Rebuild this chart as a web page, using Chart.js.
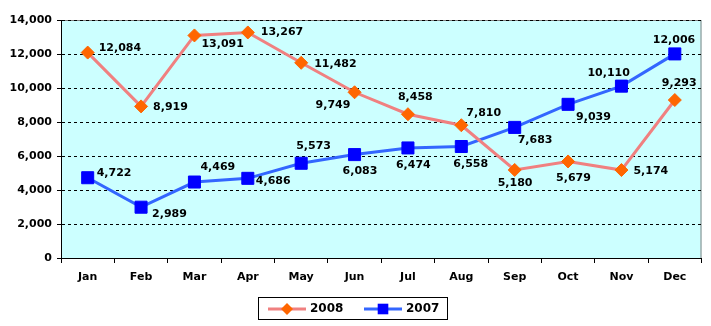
<!DOCTYPE html>
<html>
<head>
<meta charset="utf-8">
<title>2008 vs 2007</title>
<script src="https://cdn.jsdelivr.net/npm/chart.js@4/dist/chart.umd.min.js"></script>
<style>
    html, body { margin: 0; padding: 0; background: #ffffff; }
    #wrap { width: 711px; height: 326px; position: relative; }
</style>
</head>
<body>
<div id="wrap"><canvas id="monthChart"></canvas></div>
<script>
// ========================================
// DATA
// ========================================
const months = ['Jan', 'Feb', 'Mar', 'Apr', 'May', 'Jun', 'Jul', 'Aug', 'Sep', 'Oct', 'Nov', 'Dec'];
const values2008 = [12084, 8919, 13091, 13267, 11482, 9749, 8458, 7810, 5180, 5679, 5174, 9293];
const values2007 = [4722, 2989, 4469, 4686, 5573, 6083, 6474, 6558, 7683, 9039, 10110, 12006];
const yTicks = [0, 2000, 4000, 6000, 8000, 10000, 12000, 14000];

// label placement (left edge / middle of text, relative to the point)
const labelOffsets2008 = [[11, -4], [12, 1], [7, 9], [13, 0], [13, 1], [-39, 13], [-10, -17], [5, -12], [-17, 13], [-12, 17], [12, 1], [-13, -17]];
const labelOffsets2007 = [[9, -5], [11, 7], [6, -15], [8, 3], [-5, -17], [-12, 17], [-12, 17], [-8, 18], [3, 13], [8, 13], [-34, -13], [-22, -14]];

const FONT = 'bold 11px "DejaVu Sans", Verdana, sans-serif';

function fmt(n) {
    return n.toString().replace(/\B(?=(\d{3})+(?!\d))/g, ',');
}

// ========================================
// PLUGINS
// ========================================
const plotBackground = {
    id: 'plotBackground',
    beforeDraw(chart) {
        const a = chart.chartArea;
        const ctx = chart.ctx;
        ctx.save();
        ctx.fillStyle = '#ccffff';
        ctx.fillRect(a.left, a.top, a.right - a.left, a.bottom - a.top);
        ctx.strokeStyle = '#808080';
        ctx.lineWidth = 1;
        ctx.strokeRect(a.left + 0.5, a.top + 0.5, a.right - a.left - 1, a.bottom - a.top);
        ctx.restore();
    }
};

const pointLabels = {
    id: 'pointLabels',
    afterDatasetsDraw(chart) {
        const ctx = chart.ctx;
        const offsets = [labelOffsets2008, labelOffsets2007];
        ctx.save();
        ctx.font = FONT;
        ctx.fillStyle = '#000000';
        ctx.textAlign = 'left';
        ctx.textBaseline = 'middle';
        chart.data.datasets.forEach((ds, di) => {
            const meta = chart.getDatasetMeta(di);
            meta.data.forEach((pt, i) => {
                const off = offsets[di][i];
                ctx.fillText(fmt(ds.data[i]), pt.x + off[0], pt.y + off[1]);
            });
        });
        ctx.restore();
    }
};

const boxLegend = {
    id: 'boxLegend',
    afterDraw(chart) {
        const ctx = chart.ctx;
        const left = 258, top = 297, w = 189, h = 22;
        ctx.save();
        ctx.strokeStyle = '#000000';
        ctx.lineWidth = 1;
        ctx.strokeRect(left + 0.5, top + 0.5, w, h);
        const cy = top + h / 2 + 1;
        const items = [
            { x: left + 10, ds: chart.data.datasets[0], r: 6 },
            { x: left + 106, ds: chart.data.datasets[1], r: 7.5 }
        ];
        items.forEach(it => {
            const mx = it.x + 19;
            ctx.strokeStyle = it.ds.borderColor;
            ctx.lineWidth = 3;
            ctx.beginPath();
            ctx.moveTo(it.x, cy);
            ctx.lineTo(it.x + 38, cy);
            ctx.stroke();

            ctx.fillStyle = it.ds.pointBackgroundColor;
            ctx.beginPath();
            if (it.ds.pointStyle === 'rectRot') {
                ctx.moveTo(mx - it.r, cy);
                ctx.lineTo(mx, cy - it.r);
                ctx.lineTo(mx + it.r, cy);
                ctx.lineTo(mx, cy + it.r);
                ctx.closePath();
            } else {
                const s = it.r * Math.SQRT1_2;
                ctx.rect(mx - s, cy - s, 2 * s, 2 * s);
            }
            ctx.fill();

            ctx.fillStyle = '#000000';
            ctx.font = 'bold 12px "DejaVu Sans", Verdana, sans-serif';
            ctx.textAlign = 'left';
            ctx.textBaseline = 'middle';
            ctx.fillText(it.ds.label, it.x + 42, cy);
        });
        ctx.restore();
    }
};

// ========================================
// CHART
// ========================================
const ctx = document.getElementById('monthChart');

new Chart(ctx, {
    type: 'line',
    data: {
        labels: months,
        datasets: [
            {
                label: '2008',
                data: values2008,
                borderColor: '#f08080',
                borderWidth: 3,
                tension: 0,
                pointStyle: 'rectRot',
                pointRadius: 6.5,
                pointBackgroundColor: '#ff6600',
                pointBorderColor: '#ff6600',
                pointBorderWidth: 1
            },
            {
                label: '2007',
                data: values2007,
                borderColor: '#3366ff',
                borderWidth: 3,
                tension: 0,
                pointStyle: 'rect',
                pointRadius: 8.5,
                pointBackgroundColor: '#0000ff',
                pointBorderColor: '#0000ff',
                pointBorderWidth: 1
            }
        ]
    },
    options: {
        responsive: true,
        maintainAspectRatio: false,
        animation: false,
        events: [],
        layout: {
            padding: { left: 0, right: 9, top: 20, bottom: 38 }
        },
        plugins: {
            legend: { display: false },
            tooltip: { enabled: false }
        },
        scales: {
            x: {
                offset: true,
                afterFit: s => { s.height = 30; },
                grid: {
                    offset: true,
                    drawOnChartArea: false,
                    drawTicks: true,
                    tickLength: 5,
                    color: '#000000'
                },
                border: { display: true, color: '#000000', width: 1 },
                ticks: {
                    color: '#000000',
                    padding: 8,
                    maxRotation: 0,
                    font: { family: '"DejaVu Sans", Verdana, sans-serif', size: 11, weight: 'bold' }
                }
            },
            y: {
                min: 0,
                max: 14000,
                afterFit: s => { s.width = 61; },
                afterBuildTicks: s => { s.ticks = yTicks.map(v => ({ value: v })); },
                grid: {
                    color: '#000000',
                    lineWidth: 1,
                    tickLength: 4,
                    tickColor: '#000000'
                },
                border: { display: true, color: '#000000', width: 1, dash: [3, 3] },
                ticks: {
                    color: '#000000',
                    padding: 5,
                    callback: v => fmt(v),
                    font: { family: '"DejaVu Sans", Verdana, sans-serif', size: 11, weight: 'bold' }
                }
            }
        }
    },
    plugins: [plotBackground, pointLabels, boxLegend]
});
</script>
</body>
</html>
